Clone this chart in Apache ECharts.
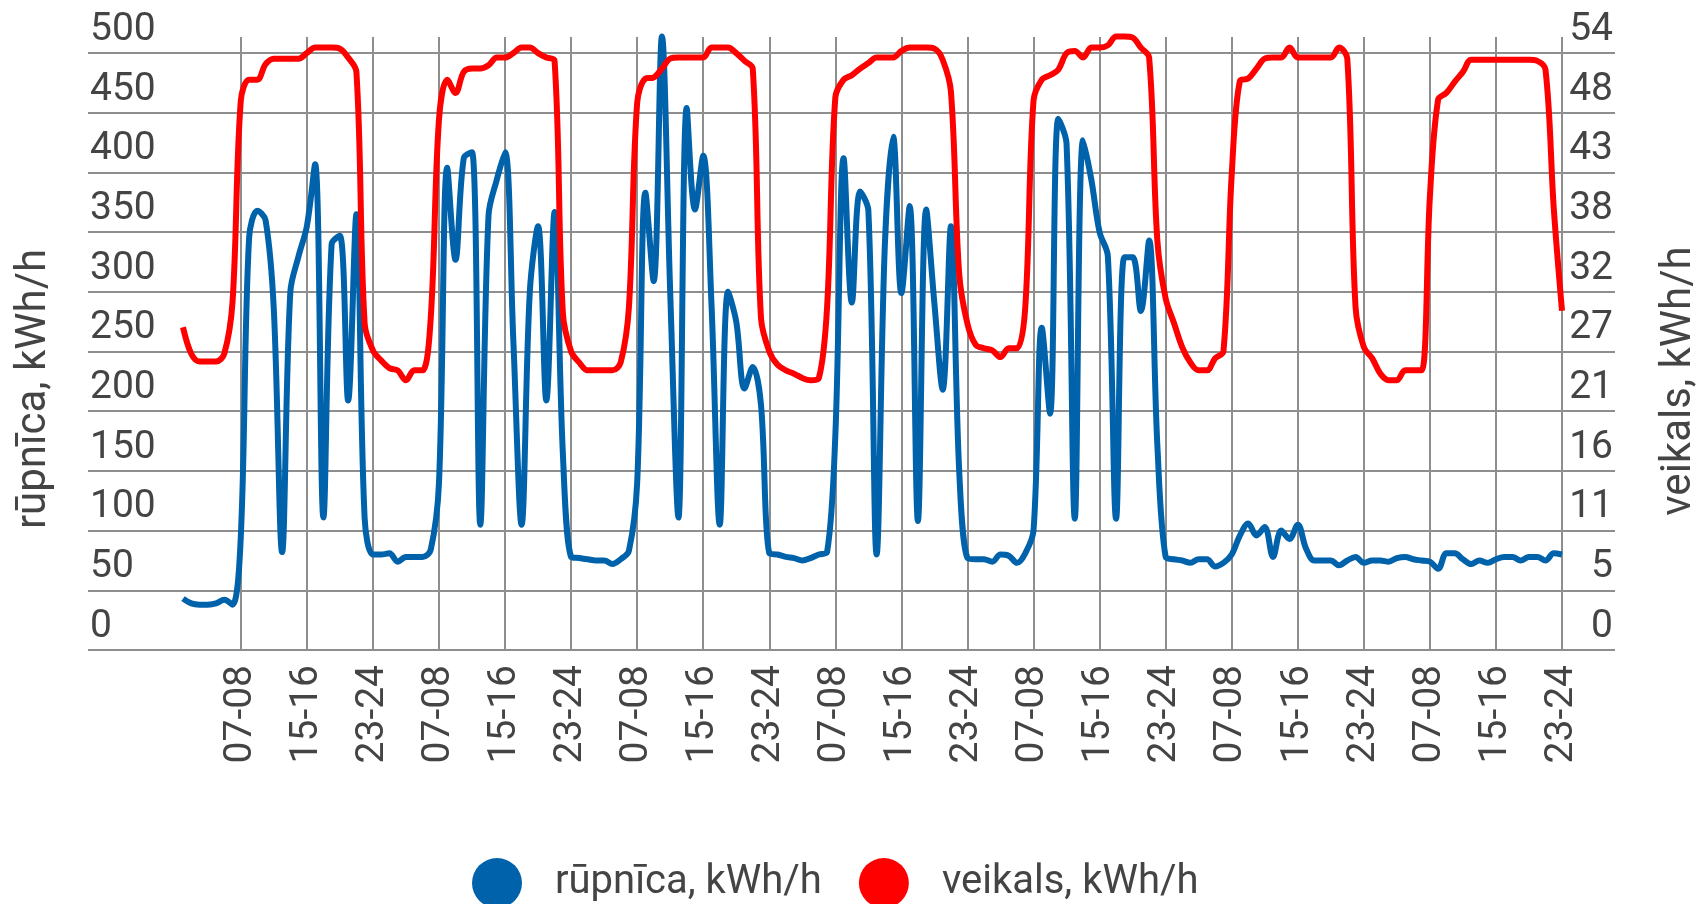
<!DOCTYPE html>
<html>
<head>
<meta charset="utf-8">
<title>rūpnīca / veikals</title>
<script src="https://cdn.jsdelivr.net/npm/echarts@6.0.0/dist/echarts.min.js"></script>
<style>
  html, body { margin: 0; padding: 0; background: #fff; }
  #chart { width: 1706px; height: 904px; }
</style>
</head>
<body>
<div id="chart"></div>
<script>
// stundu intervāli vienai diennaktij, atkārtojas 7 dienas
const hourLabels = ['00-01','01-02','02-03','03-04','04-05','05-06','06-07','07-08',
  '08-09','09-10','10-11','11-12','12-13','13-14','14-15','15-16',
  '16-17','17-18','18-19','19-20','20-21','21-22','22-23','23-24'];
const dayCount = 7;

// labā ass - paraksti (kā oriģinālā, noapaļoti)
const rightLabels = ['0','5','11','16','21','27','32','38','43','48','54'];

// rūpnīca, kWh/h (kreisā ass)
const rupnica = [
  43, 39, 38, 38, 39, 42, 38, 95, 345, 368, 360, 285, 82, 300, 330, 355, 407, 111, 340, 347, 209, 365, 110, 80,
  80, 81, 74, 78, 78, 78, 84, 140, 404, 327, 412, 417, 105, 364, 394, 417, 260, 105, 300, 355, 209, 367, 165, 78,
  77, 76, 75, 75, 72, 76, 83, 140, 383, 309, 514, 300, 111, 454, 369, 414, 290, 105, 300, 275, 219, 237, 205, 81,
  80, 78, 77, 75, 77, 80, 82, 180, 412, 291, 384, 368, 80, 340, 430, 299, 372, 108, 369, 290, 218, 355, 150, 77,
  76, 76, 74, 80, 79, 73, 81, 100, 270, 198, 445, 424, 110, 427, 394, 350, 330, 110, 329, 329, 284, 343, 171, 78,
  76, 75, 73, 76, 76, 70, 73, 80, 96, 106, 96, 103, 78, 100, 93, 105, 85, 75, 75, 75, 71, 75, 78, 73,
  75, 75, 74, 77, 78, 76, 75, 74, 68, 81, 81, 76, 72, 75, 73, 76, 78, 78, 75, 78, 78, 75, 81, 80
];

// veikals, kWh/h (labā ass)
const veikals = [
  29.2, 26.8, 26.1, 26.1, 26.1, 26.8, 31.5, 49.7, 51.6, 51.6, 53.0, 53.5, 53.5, 53.5, 53.5, 54.0, 54.5, 54.5, 54.5, 54.4, 53.6, 52.3, 29.5, 27.1,
  26.2, 25.5, 25.3, 24.4, 25.3, 25.3, 30.0, 48.0, 51.6, 50.4, 52.3, 52.6, 52.6, 52.9, 53.6, 53.6, 54.0, 54.5, 54.5, 54.0, 53.6, 53.3, 30.5, 27.0,
  26.0, 25.3, 25.3, 25.3, 25.3, 26.0, 31.0, 49.5, 51.7, 51.8, 52.6, 53.5, 53.6, 53.6, 53.6, 53.6, 54.5, 54.5, 54.5, 54.0, 53.3, 52.6, 30.0, 27.0,
  25.8, 25.3, 25.0, 24.6, 24.4, 24.6, 31.0, 50.0, 51.6, 52.0, 52.6, 53.1, 53.6, 53.6, 53.6, 54.2, 54.5, 54.5, 54.5, 54.4, 53.4, 50.5, 34.0, 29.5,
  27.6, 27.3, 27.1, 26.5, 27.3, 27.3, 31.0, 49.7, 51.6, 52.0, 52.5, 54.0, 54.2, 53.6, 54.5, 54.5, 54.7, 55.5, 55.5, 55.4, 54.5, 53.6, 37.0, 31.8,
  29.6, 27.4, 26.0, 25.3, 25.3, 26.4, 27.0, 43.0, 51.5, 51.7, 52.6, 53.5, 53.6, 53.6, 54.5, 53.6, 53.6, 53.6, 53.6, 53.6, 54.5, 53.5, 31.0, 27.4,
  26.4, 25.0, 24.4, 24.4, 25.3, 25.3, 25.3, 41.0, 49.8, 50.4, 51.4, 52.3, 53.4, 53.4, 53.4, 53.4, 53.4, 53.4, 53.4, 53.4, 53.3, 52.5, 40.0, 30.7
];

const categories = [];
for (let d = 0; d < dayCount; d++) categories.push(...hourLabels);

const leftMax = 513.5;              // 500 -> augšējā režģa līnija
const rightMax = 54 * leftMax / 500;
const rightStep = 5.4;

const textColor = '#444';
const gridColor = '#8e8e8e';
const font = 'Roboto';

// tikai 07-08, 15-16, 23-24
const everyEighth = (idx) => idx % 8 === 7;

const chart = echarts.init(document.getElementById('chart'));
chart.setOption({
  animation: false,
  backgroundColor: '#fff',
  textStyle: { fontFamily: font },
  legend: {
    left: 467,
    top: 853,
    icon: 'circle',
    itemWidth: 50,
    itemHeight: 50,
    itemGap: 37,
    textStyle: { fontSize: 40, color: textColor, fontFamily: font, padding: [18, 0, 0, 28] },
    data: ['rūpnīca, kWh/h', 'veikals, kWh/h']
  },
  grid: [
    // režģis ar horizontālajām līnijām un y asīm
    { left: 88, right: 91, top: 37, bottom: 254, outerBoundsMode: 'none' },
    // līnijas un vertikālās līnijas
    { left: 183, right: 144, top: 37, bottom: 254, outerBoundsMode: 'none' }
  ],
  xAxis: [
    { gridIndex: 0, type: 'value', show: false, min: 0, max: 1 },
    {
      gridIndex: 1,
      type: 'category',
      data: categories,
      boundaryGap: false,
      axisLine: { show: false },
      axisTick: { show: false },
      axisLabel: {
        interval: everyEighth,
        rotate: 90,
        fontSize: 39,
        color: textColor,
        fontFamily: font,
        margin: 15
      },
      splitLine: {
        show: true,
        interval: everyEighth,
        lineStyle: { color: gridColor, width: 2 }
      }
    }
  ],
  yAxis: [
    {
      gridIndex: 0,
      type: 'value',
      min: 0,
      max: leftMax,
      interval: 50,
      position: 'left',
      name: 'rūpnīca, kWh/h',
      nameLocation: 'middle',
      nameRotate: 90,
      nameGap: 33,
      nameTextStyle: { fontSize: 42, color: textColor, fontFamily: font, padding: [0, 91, 0, 0] },
      axisLine: { show: false },
      axisTick: { show: false },
      axisLabel: {
        inside: true,
        margin: 2,
        fontSize: 39,
        color: textColor,
        fontFamily: font,
        verticalAlign: 'bottom',
        lineHeight: 46,
        formatter: (v) => (v % 50 === 0 ? String(v) : '')
      },
      splitLine: { show: true, showMaxLine: false, lineStyle: { color: gridColor, width: 2 } }
    },
    {
      gridIndex: 0,
      type: 'value',
      min: 0,
      max: rightMax,
      interval: rightStep,
      position: 'right',
      name: 'veikals, kWh/h',
      nameLocation: 'middle',
      nameRotate: 90,
      nameGap: 43,
      nameTextStyle: { fontSize: 42, color: textColor, fontFamily: font, padding: [0, 75, 0, 0] },
      axisLine: { show: false },
      axisTick: { show: false },
      axisLabel: {
        inside: true,
        margin: 2,
        fontSize: 39,
        color: textColor,
        fontFamily: font,
        verticalAlign: 'bottom',
        lineHeight: 46,
        formatter: (v) => {
          const k = Math.round(v / rightStep);
          return Math.abs(v - k * rightStep) < 1e-3 && rightLabels[k] !== undefined ? rightLabels[k] : '';
        }
      },
      splitLine: { show: false }
    },
    { gridIndex: 1, type: 'value', min: 0, max: leftMax, show: false },
    { gridIndex: 1, type: 'value', min: 0, max: rightMax, show: false }
  ],
  series: [
    {
      name: 'rūpnīca, kWh/h',
      type: 'line',
      xAxisIndex: 1,
      yAxisIndex: 2,
      data: rupnica,
      smooth: 0.35,
      showSymbol: false,
      clip: false,
      color: '#0062ab',
      lineStyle: { width: 6, color: '#0062ab' }
    },
    {
      name: 'veikals, kWh/h',
      type: 'line',
      xAxisIndex: 1,
      yAxisIndex: 3,
      data: veikals,
      smooth: 0.35,
      showSymbol: false,
      clip: false,
      color: '#ff0000',
      lineStyle: { width: 6, color: '#ff0000' }
    }
  ]
});
</script>
</body>
</html>
